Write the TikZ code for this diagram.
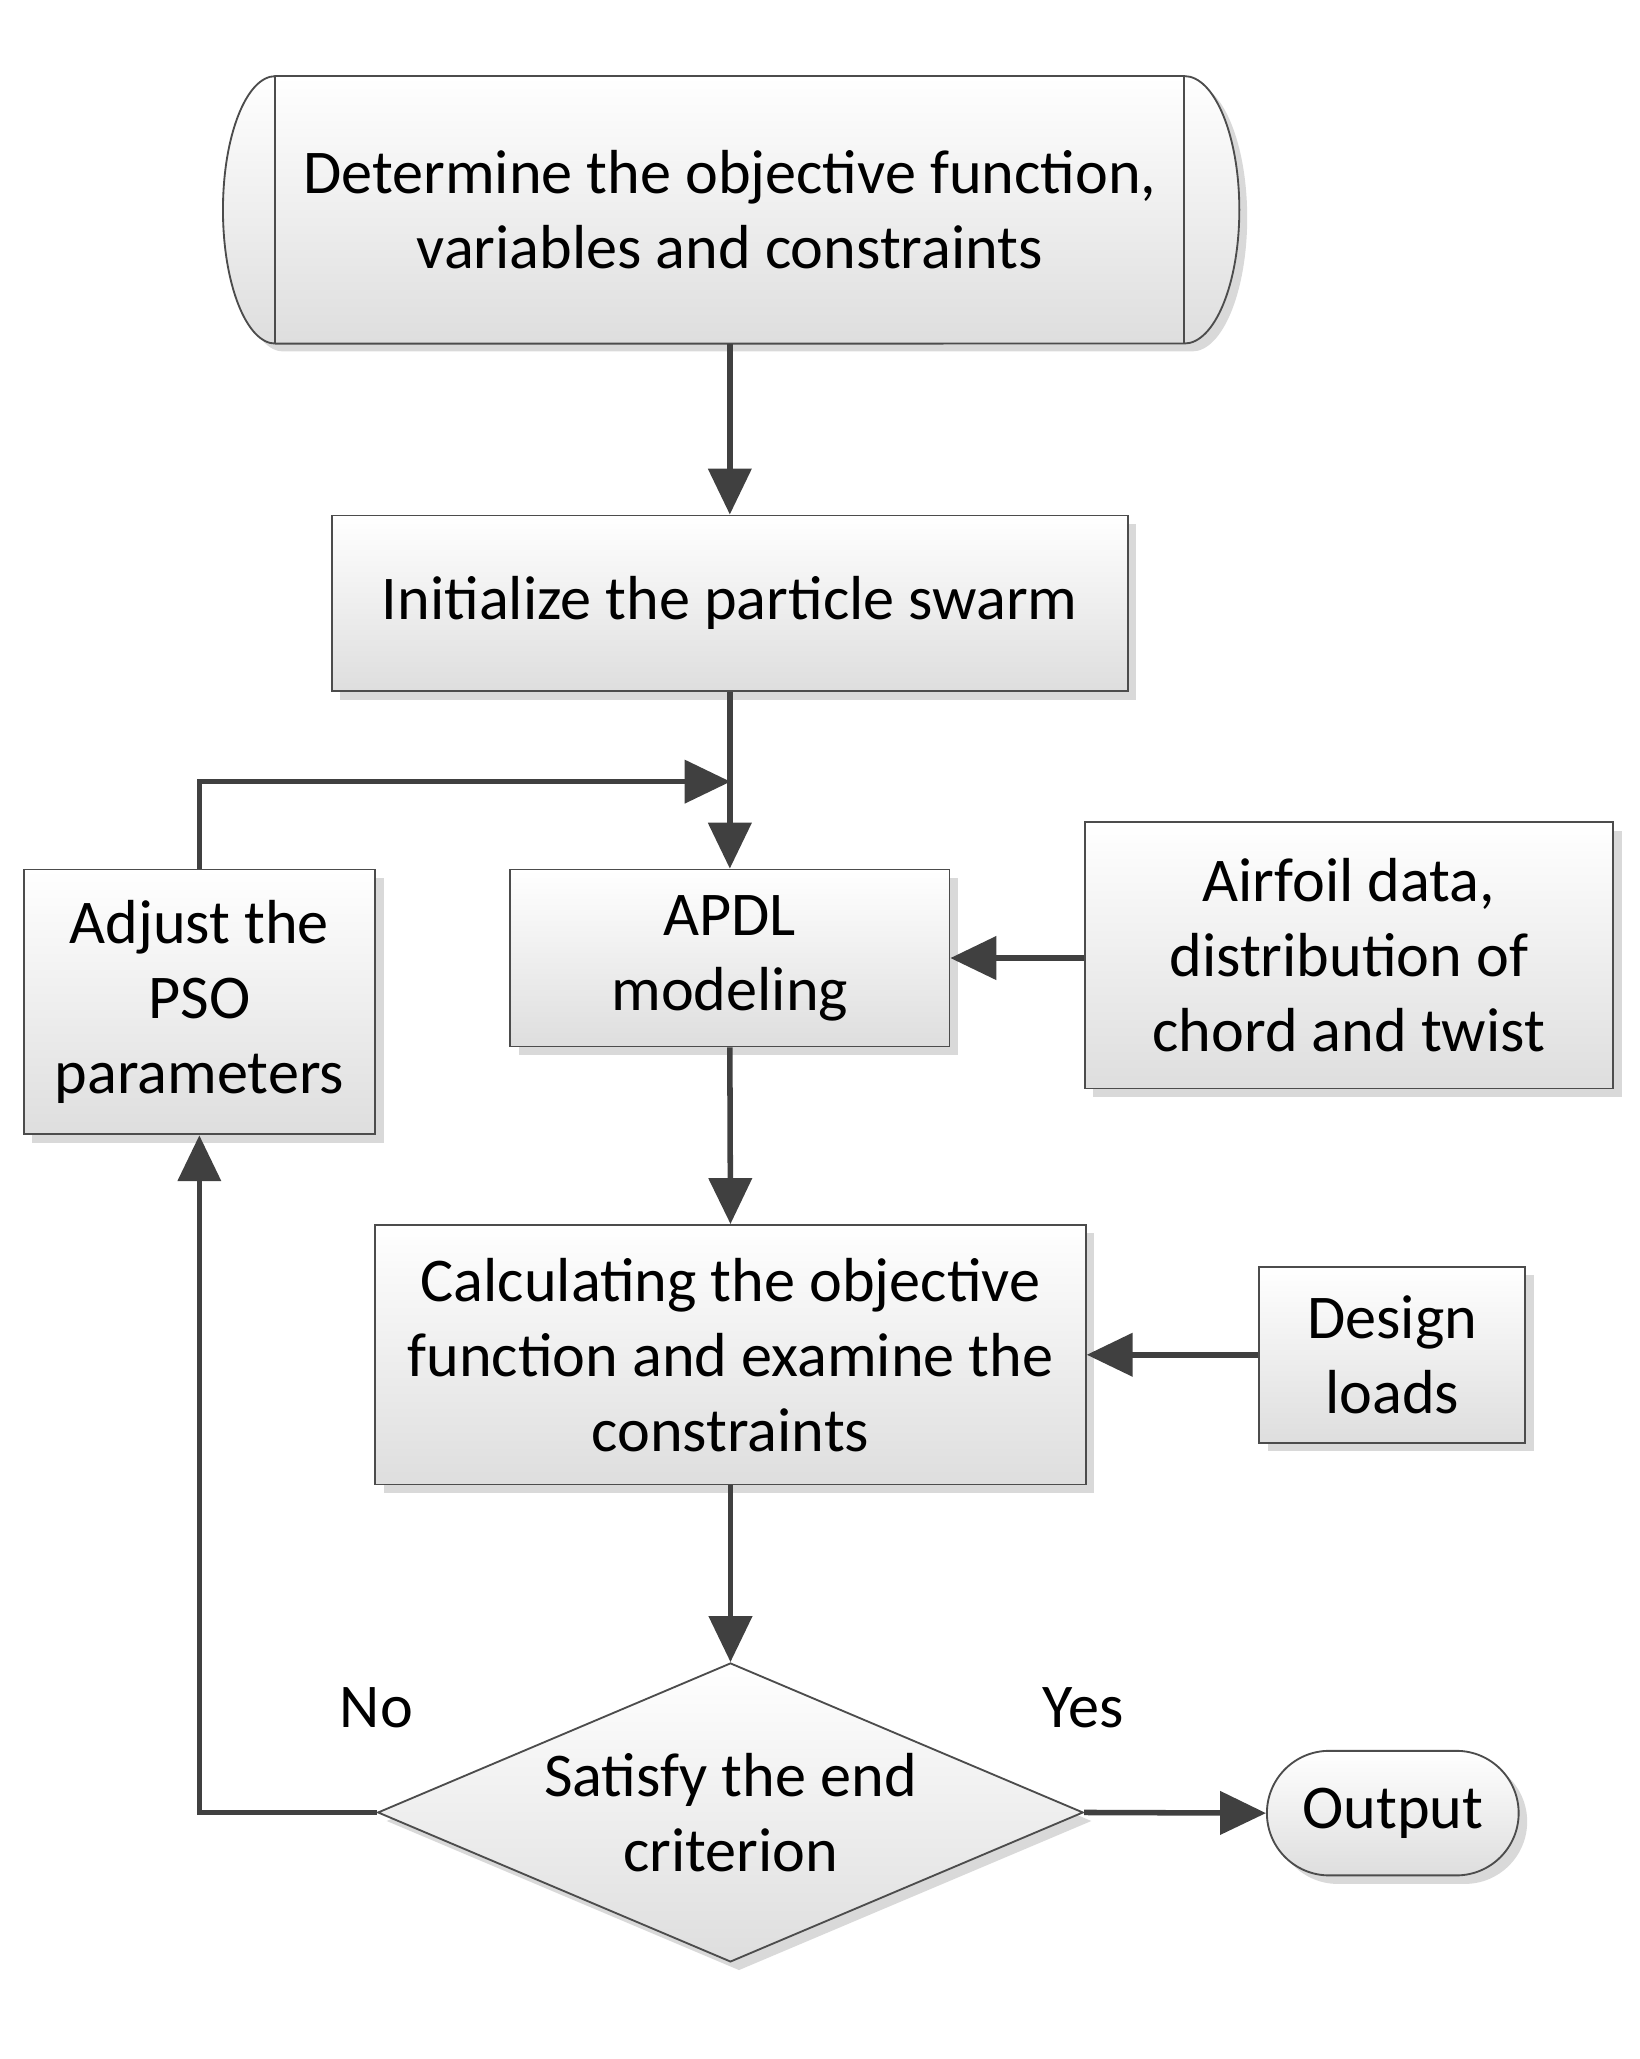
\documentclass[tikz,border=0pt]{standalone}
\usepackage{fontspec}
\setmainfont{Carlito}
\usetikzlibrary{shapes.geometric,shadows,arrows.meta}
\begin{document}
\begin{tikzpicture}[x=0.02cm,y=-0.02cm,
  box/.style={draw=black!70,line width=0.8pt,top color=white,bottom color=black!13,
    drop shadow={shadow xshift=0.13cm,shadow yshift=-0.13cm,fill=black!15,opacity=1},
    align=center,font=\fontsize{27}{32.5}\selectfont,inner sep=0pt},
  txt/.style={align=center,font=\fontsize{27}{32.5}\selectfont},
  con/.style={draw=black!75,line width=2.4pt,-{Triangle[length=0.7cm,width=0.65cm]}}]
\useasboundingbox (0,0) rectangle (1250,1570);
% terminal
\fill[black!15] (216,64) -- (909,64) arc[start angle=90,end angle=-90,x radius=0.84cm,y radius=2.04cm] -- (216,268) arc[start angle=270,end angle=90,x radius=0.8cm,y radius=2.04cm] -- cycle;
\shade[top color=white,bottom color=black!13,draw=black!70,line width=0.8pt] (210,58) -- (903,58) arc[start angle=90,end angle=-90,x radius=0.84cm,y radius=2.04cm] -- (210,262) arc[start angle=270,end angle=90,x radius=0.8cm,y radius=2.04cm] -- cycle;
\draw[black!70,line width=0.8pt] (210,58) -- (210,262) (903,58) -- (903,262);
\node[txt,minimum height=4.08cm,inner sep=0pt] (start) at (556.5,160) {Determine the objective function,\\variables and constraints};
\node[box,minimum width=12.14cm,minimum height=2.68cm] (init) at (556.5,460) {Initialize the particle swarm};
\node[box,minimum width=6.7cm,minimum height=2.7cm] (apdl) at (556.5,730.5) {APDL\\modeling};
\node[box,minimum width=5.36cm,minimum height=4.04cm] (adj) at (152,764) {Adjust the\\PSO\\parameters};
\node[box,minimum width=8.06cm,minimum height=4.06cm] (air) at (1028.5,728.5) {Airfoil data,\\distribution of\\chord and twist};
\node[box,minimum width=10.84cm,minimum height=3.96cm] (calc) at (557,1033) {Calculating the objective\\function and examine the\\constraints};
\node[box,minimum width=4.06cm,minimum height=2.68cm] (des) at (1061.5,1033) {Design\\loads};
\node[box,shape=diamond,aspect=2.36,minimum width=10.76cm,minimum height=4.56cm] (dia) at (557,1382) {Satisfy the end\\criterion};
\node[box,rounded corners=0.95cm,minimum width=3.84cm,minimum height=1.9cm] (out) at (1062,1382.5) {Output};
\node[txt] (no) at (287,1302) {No};
\node[txt] (yes) at (826,1302) {Yes};
\coordinate (j) at (557,596);
\draw[con] (start.south) -- (init.north);
\draw[con] (init.south) -- (apdl.north);
\draw[con] (adj.north) |- (j);
\draw[con] (air.west |- apdl.east) -- (apdl.east);
\draw[con] (apdl.south) -- (calc.north);
\draw[con] (des.west) -- (calc.east);
\draw[con] (calc.south) -- (dia.north);
\draw[con] (dia.west) -| (adj.south);
\draw[con] (dia.east) -- (out.west);
\end{tikzpicture}
\end{document}
